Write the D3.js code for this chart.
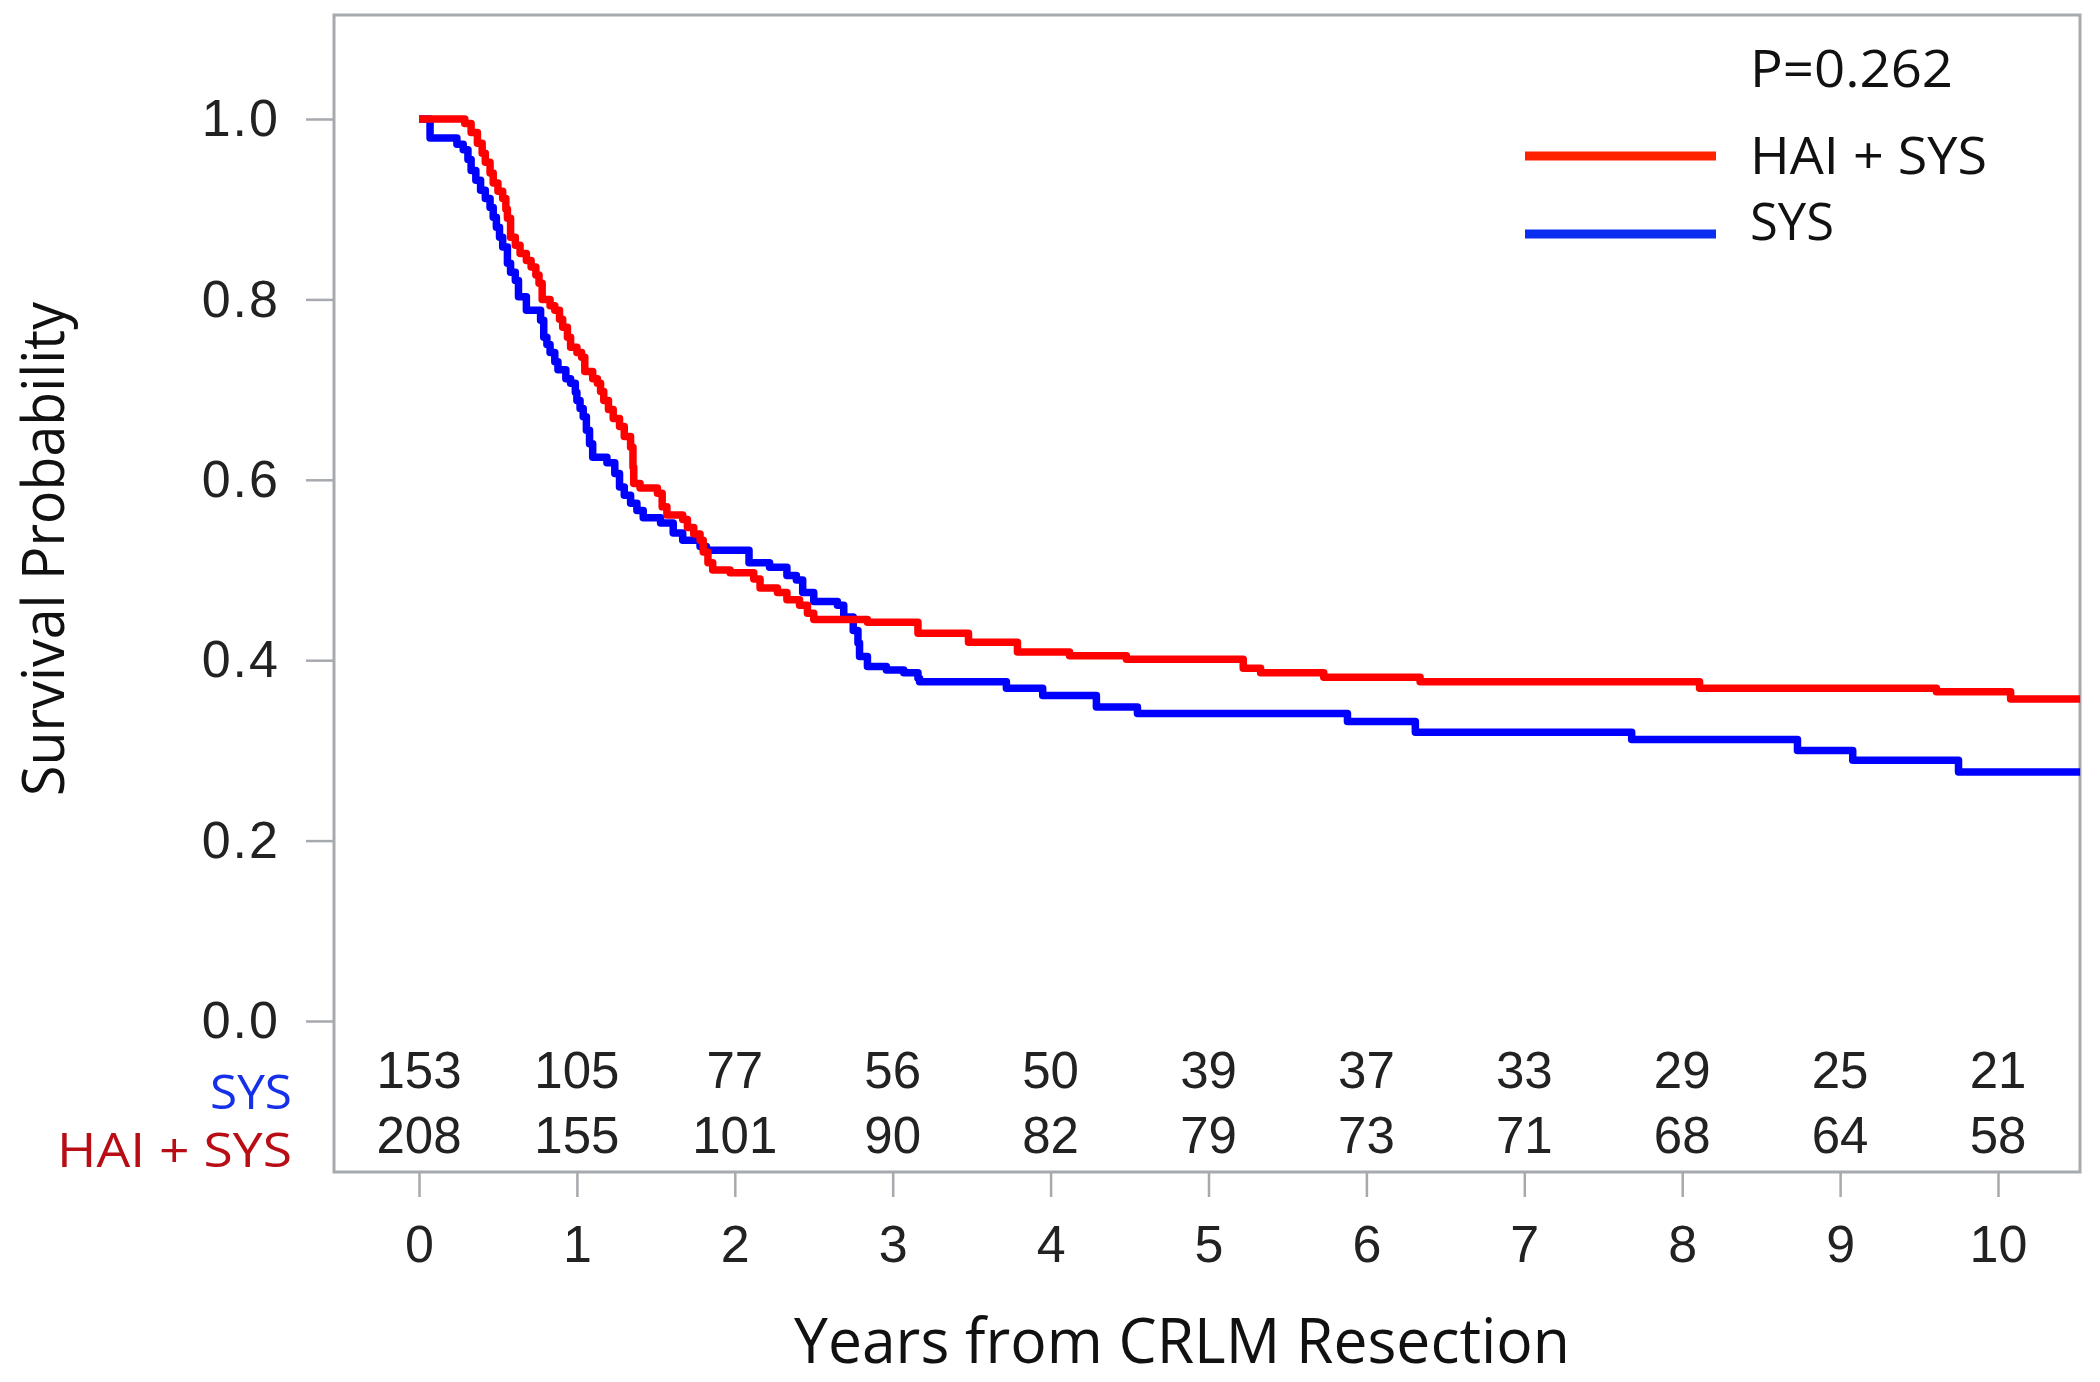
<!DOCTYPE html>
<html>
<head>
<meta charset="utf-8">
<script src="https://cdn.jsdelivr.net/npm/d3@7"></script>
<style>
  html, body { margin: 0; padding: 0; background: #ffffff; }
  svg { display: block; }
</style>
</head>
<body>
<svg id="chart" width="2100" height="1382"></svg>
<script>
// ---------- DATA ----------
const groups = ["HAI + SYS", "SYS"];
const pValueLabel = "P=0.262";
const xTickValues = [0, 1, 2, 3, 4, 5, 6, 7, 8, 9, 10];
const yTickValues = [0, 0.2, 0.4, 0.6, 0.8, 1.0];

// HAI + SYS Kaplan-Meier steps (time in years, survival after the step)
const haiTimes = [0, 0.29, 0.33, 0.37, 0.40, 0.42, 0.45, 0.47, 0.50, 0.53, 0.55, 0.56, 0.58, 0.61, 0.64, 0.68, 0.71, 0.74, 0.76, 0.78,
  0.83, 0.86, 0.89, 0.91, 0.94, 0.96, 1.00, 1.03, 1.05, 1.10, 1.13, 1.15, 1.17, 1.20, 1.23, 1.27, 1.30, 1.34, 1.355, 1.36,
  1.40, 1.51, 1.54, 1.57, 1.67, 1.70, 1.74, 1.78, 1.80, 1.83, 1.86, 1.97, 2.12, 2.16, 2.27, 2.33, 2.41, 2.46, 2.50, 2.84,
  3.16, 3.48, 3.79, 4.12, 4.48, 5.22, 5.33, 5.73, 6.34, 8.11, 9.61, 10.08, 10.52];
const haiSurv = [1.0, 0.995, 0.985, 0.973, 0.962, 0.952, 0.940, 0.929, 0.920, 0.912, 0.900, 0.890, 0.869, 0.860, 0.851, 0.843, 0.836, 0.827, 0.818, 0.800,
  0.793, 0.788, 0.778, 0.769, 0.758, 0.747, 0.741, 0.736, 0.720, 0.712, 0.707, 0.698, 0.688, 0.678, 0.668, 0.659, 0.648, 0.636, 0.614, 0.596,
  0.591, 0.585, 0.570, 0.561, 0.556, 0.547, 0.540, 0.533, 0.520, 0.508, 0.500, 0.497, 0.490, 0.480, 0.475, 0.467, 0.461, 0.452, 0.445, 0.442,
  0.430, 0.420, 0.409, 0.405, 0.401, 0.391, 0.386, 0.381, 0.376, 0.369, 0.365, 0.357, 0.357];

// SYS Kaplan-Meier steps
const sysTimes = [0, 0.07, 0.24, 0.28, 0.31, 0.33, 0.36, 0.39, 0.42, 0.45, 0.47, 0.49, 0.51, 0.53, 0.56, 0.58, 0.61, 0.63, 0.68, 0.77,
  0.79, 0.81, 0.83, 0.86, 0.88, 0.93, 0.96, 0.99, 1.00, 1.02, 1.04, 1.06, 1.08, 1.10, 1.19, 1.24, 1.27, 1.30, 1.34, 1.38,
  1.42, 1.53, 1.61, 1.67, 1.78, 1.82, 2.09, 2.22, 2.33, 2.39, 2.43, 2.50, 2.65, 2.69, 2.75, 2.78, 2.79, 2.84, 2.96, 3.07,
  3.16, 3.17, 3.72, 3.95, 4.29, 4.55, 5.88, 6.31, 7.68, 8.73, 9.08, 9.75, 10.52];
const sysSurv = [1.0, 0.979, 0.972, 0.966, 0.955, 0.943, 0.932, 0.921, 0.912, 0.902, 0.891, 0.880, 0.869, 0.858, 0.840, 0.830, 0.821, 0.803, 0.788, 0.777,
  0.758, 0.750, 0.741, 0.731, 0.722, 0.712, 0.707, 0.697, 0.688, 0.679, 0.670, 0.655, 0.640, 0.625, 0.619, 0.607, 0.592, 0.583, 0.574, 0.566,
  0.558, 0.552, 0.541, 0.533, 0.526, 0.522, 0.508, 0.503, 0.494, 0.489, 0.475, 0.465, 0.461, 0.448, 0.433, 0.419, 0.404, 0.393, 0.389, 0.386,
  0.380, 0.376, 0.369, 0.361, 0.348, 0.341, 0.332, 0.320, 0.312, 0.300, 0.289, 0.276, 0.276];

// Numbers at risk
const atRiskSys = [153, 105, 77, 56, 50, 39, 37, 33, 29, 25, 21];
const atRiskHai = [208, 155, 101, 90, 82, 79, 73, 71, 68, 64, 58];

// ---------- LAYOUT ----------
const svg = d3.select("#chart");
const frame = { left: 334, right: 2080, top: 15, bottom: 1172 };
const x = d3.scaleLinear().domain([0, 10]).range([419, 1998]);
const y = d3.scaleLinear().domain([0, 1]).range([1021, 119]);

const gray = "#a6a9ad";
const tickFont = "'Liberation Sans', Arial, sans-serif";
const labelFont = "'Open Sans', 'Noto Sans', sans-serif";

// frame
svg.append("rect")
  .attr("x", frame.left).attr("y", frame.top)
  .attr("width", frame.right - frame.left).attr("height", frame.bottom - frame.top)
  .attr("fill", "#fff").attr("stroke", gray).attr("stroke-width", 3);

// y axis
const yAxis = svg.append("g")
  .attr("transform", `translate(${frame.left},0)`)
  .call(d3.axisLeft(y).tickValues(yTickValues).tickFormat(d3.format(".1f")).tickSize(28).tickSizeOuter(0).tickPadding(26));
yAxis.select(".domain").remove();
yAxis.selectAll(".tick line").attr("stroke", gray).attr("stroke-width", 2.5);
yAxis.selectAll(".tick text").attr("font-family", tickFont).attr("font-size", 52).attr("fill", "#222")
  .attr("letter-spacing", 2);

// x axis
const xAxis = svg.append("g")
  .attr("transform", `translate(0,${frame.bottom})`)
  .call(d3.axisBottom(x).tickValues(xTickValues).tickFormat(d3.format("d")).tickSize(25).tickSizeOuter(0).tickPadding(28));
xAxis.select(".domain").remove();
xAxis.selectAll(".tick line").attr("stroke", gray).attr("stroke-width", 2.5);
xAxis.selectAll(".tick text").attr("font-family", tickFont).attr("font-size", 52).attr("fill", "#222");

// curves
const line = d3.line().x(d => x(d[0])).y(d => y(d[1])).curve(d3.curveStepAfter);
const haiPts = d3.zip(haiTimes, haiSurv);
const sysPts = d3.zip(sysTimes, sysSurv);
svg.append("path").datum(sysPts).attr("d", line)
  .attr("fill", "none").attr("stroke", "#0000ff").attr("stroke-width", 7.5).attr("stroke-linejoin", "round");
svg.append("path").datum(haiPts).attr("d", line)
  .attr("fill", "none").attr("stroke", "#ff0000").attr("stroke-width", 7.5).attr("stroke-linejoin", "round");

// numbers at risk
svg.append("g").selectAll("text").data(atRiskSys).join("text")
  .attr("x", (d, i) => x(xTickValues[i])).attr("y", 1088)
  .attr("text-anchor", "middle").attr("font-family", tickFont).attr("font-size", 51).attr("fill", "#222")
  .text(d => d);
svg.append("g").selectAll("text").data(atRiskHai).join("text")
  .attr("x", (d, i) => x(xTickValues[i])).attr("y", 1153)
  .attr("text-anchor", "middle").attr("font-family", tickFont).attr("font-size", 51).attr("fill", "#222")
  .text(d => d);

// row labels
svg.append("text").attr("x", 292).attr("y", 1109).attr("text-anchor", "end")
  .attr("font-family", labelFont).attr("font-size", 47).attr("fill", "#1530e8")
  .attr("textLength", 82).attr("lengthAdjust", "spacingAndGlyphs").text(groups[1]);
svg.append("text").attr("x", 292).attr("y", 1167).attr("text-anchor", "end")
  .attr("font-family", labelFont).attr("font-size", 47).attr("fill", "#b80d14")
  .attr("textLength", 235).attr("lengthAdjust", "spacingAndGlyphs").text(groups[0]);

// legend
svg.append("text").attr("x", 1750).attr("y", 87)
  .attr("font-family", labelFont).attr("font-size", 51).attr("fill", "#111")
  .attr("textLength", 203).attr("lengthAdjust", "spacingAndGlyphs").text(pValueLabel);
const legendItems = [
  { label: groups[0], color: "#ff2200", y: 156, ty: 174, w: 237 },
  { label: groups[1], color: "#0a2ef0", y: 234, ty: 240, w: 84 }
];
legendItems.forEach(it => {
  svg.append("line").attr("x1", 1525).attr("x2", 1716).attr("y1", it.y).attr("y2", it.y)
    .attr("stroke", it.color).attr("stroke-width", 9);
  svg.append("text").attr("x", 1750).attr("y", it.ty)
    .attr("font-family", labelFont).attr("font-size", 51).attr("fill", "#111")
    .attr("textLength", it.w).attr("lengthAdjust", "spacingAndGlyphs").text(it.label);
});

// axis titles
svg.append("text").attr("x", 794).attr("y", 1363)
  .attr("font-family", labelFont).attr("font-size", 62).attr("fill", "#111")
  .attr("textLength", 776).attr("lengthAdjust", "spacingAndGlyphs").text("Years from CRLM Resection");
svg.append("text").attr("transform", "translate(64,549) rotate(-90)").attr("text-anchor", "middle")
  .attr("font-family", labelFont).attr("font-size", 58).attr("fill", "#111")
  .attr("textLength", 494).attr("lengthAdjust", "spacingAndGlyphs").text("Survival Probability");
</script>
</body>
</html>
